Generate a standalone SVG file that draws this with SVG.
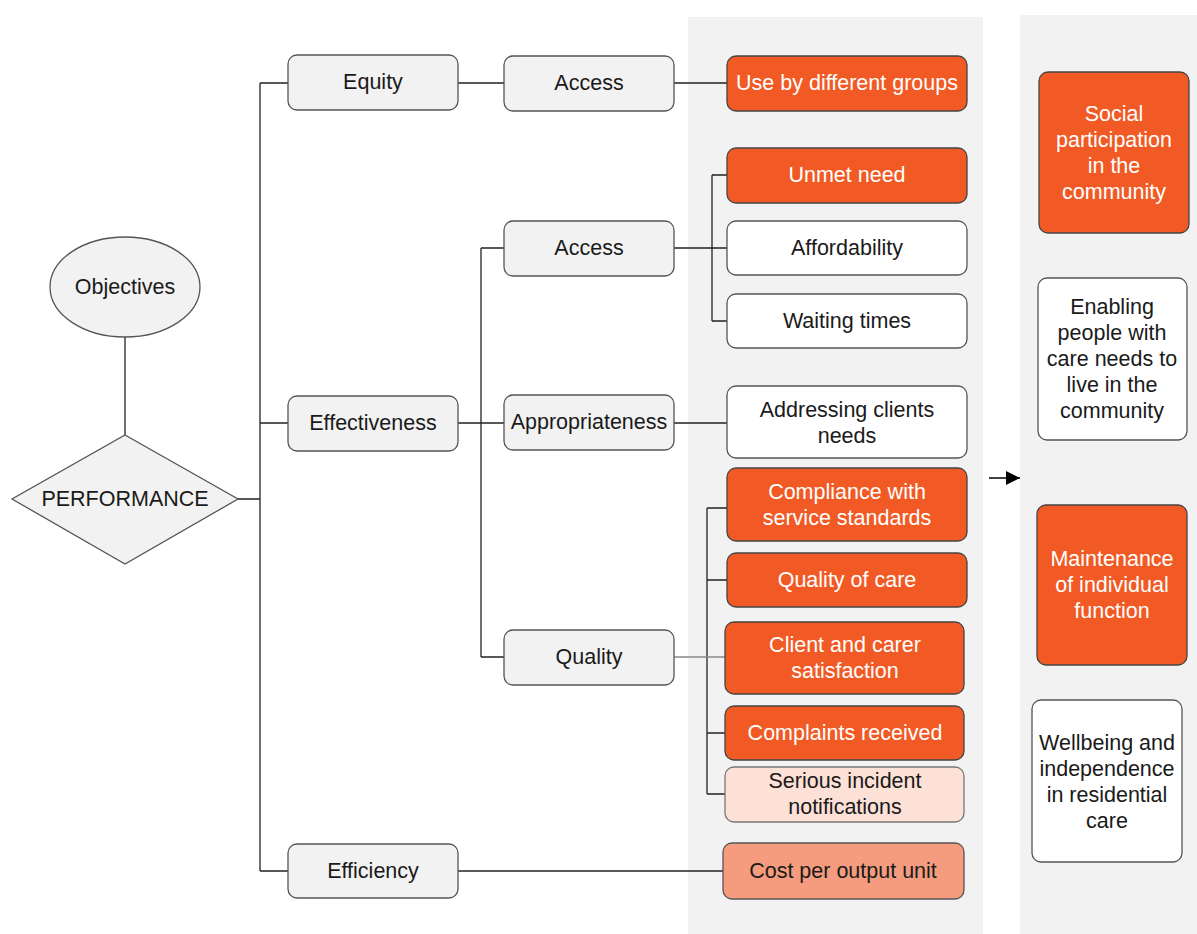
<svg xmlns="http://www.w3.org/2000/svg" width="1197" height="934" viewBox="0 0 1197 934">
<defs>
<style>
.t{font-family:"Liberation Sans",Arial,sans-serif;font-size:21.5px;text-anchor:middle;dominant-baseline:central;fill:#1a1a1a}
.w{fill:#ffffff}
.g{fill:#f2f2f2;stroke:#555;stroke-width:1.3}
.o{fill:#f15a24;stroke:#444;stroke-width:1.3}
.wh{fill:#ffffff;stroke:#555;stroke-width:1.3}
.pk{fill:#fde0d6;stroke:#777;stroke-width:1.3}
.sa{fill:#f59c7e;stroke:#555;stroke-width:1.3}
.c{fill:none;stroke:#222;stroke-width:1.3}
</style>
<marker id="ah" viewBox="0 0 10 10" refX="10" refY="5" markerWidth="14" markerHeight="14" markerUnits="userSpaceOnUse" orient="auto"><path d="M0,0 L10,5 L0,10 Z" fill="#000"/></marker>
</defs>
<rect width="1197" height="934" fill="#fff"/>
<rect x="688" y="17" width="295" height="917" fill="#f2f2f2"/>
<rect x="1020" y="15" width="177" height="919" fill="#f2f2f2"/>
<g id="connectors">
<path class="c" d="M125,337 V435"/>
<path class="c" d="M238,499 H260 M260,83 V871 M260,83 H288 M260,423 H288 M260,871 H288"/>
<path class="c" d="M458,83 H504 M674,83 H727"/>
<path class="c" d="M458,423 H504 M481,248 V657 M481,248 H504 M481,657 H504 M674,423 H727"/>
<path class="c" d="M674,248 H727 M712,175 V321 M712,175 H727 M712,321 H727"/>
<path class="c" d="M707,508 V794 M707,508 H727 M707,580 H727 M707,733 H725 M707,794 H725"/>
<path d="M674,657 H725" fill="none" stroke="#888" stroke-width="1.3"/>
<path class="c" d="M458,871 H723"/>
<path d="M989,478 H1020" fill="none" stroke="#000" stroke-width="1.5" marker-end="url(#ah)"/>
</g>
<g id="objectives"><ellipse class="g" cx="125" cy="287" rx="75" ry="50"/><text class="t" x="125" y="287">Objectives</text></g>
<g id="performance"><polygon class="g" points="125,435 238,499 125,564 12,499"/><text class="t" x="125" y="499">PERFORMANCE</text></g>
<g id="equity"><rect class="g" x="288" y="55" width="170" height="55" rx="9"/><text class="t" x="373" y="82">Equity</text></g>
<g id="effectiveness"><rect class="g" x="288" y="396" width="170" height="55" rx="9"/><text class="t" x="373" y="423">Effectiveness</text></g>
<g id="efficiency"><rect class="g" x="288" y="844" width="170" height="54" rx="9"/><text class="t" x="373" y="871">Efficiency</text></g>
<g id="access1"><rect class="g" x="504" y="56" width="170" height="55" rx="9"/><text class="t" x="589" y="83">Access</text></g>
<g id="access2"><rect class="g" x="504" y="221" width="170" height="55" rx="9"/><text class="t" x="589" y="248">Access</text></g>
<g id="appropriateness"><rect class="g" x="504" y="395" width="170" height="55" rx="9"/><text class="t" x="589" y="422">Appropriateness</text></g>
<g id="quality"><rect class="g" x="504" y="630" width="170" height="55" rx="9"/><text class="t" x="589" y="657">Quality</text></g>
<g id="use-by-groups"><rect class="o" x="727" y="56" width="240" height="55" rx="9"/><text class="t w" x="847" y="83">Use by different groups</text></g>
<g id="unmet-need"><rect class="o" x="727" y="148" width="240" height="55" rx="9"/><text class="t w" x="847" y="175">Unmet need</text></g>
<g id="affordability"><rect class="wh" x="727" y="221" width="240" height="54" rx="9"/><text class="t" x="847" y="248">Affordability</text></g>
<g id="waiting-times"><rect class="wh" x="727" y="294" width="240" height="54" rx="9"/><text class="t" x="847" y="321">Waiting times</text></g>
<g id="addressing-needs"><rect class="wh" x="727" y="386" width="240" height="72" rx="9"/><text class="t" x="847" y="410">Addressing clients</text><text class="t" x="847" y="436">needs</text></g>
<g id="compliance"><rect class="o" x="727" y="468" width="240" height="73" rx="9"/><text class="t w" x="847" y="492">Compliance with</text><text class="t w" x="847" y="518">service standards</text></g>
<g id="quality-of-care"><rect class="o" x="727" y="553" width="240" height="54" rx="9"/><text class="t w" x="847" y="580">Quality of care</text></g>
<g id="satisfaction"><rect class="o" x="725" y="622" width="239" height="72" rx="9"/><text class="t w" x="845" y="645">Client and carer</text><text class="t w" x="845" y="671">satisfaction</text></g>
<g id="complaints"><rect class="o" x="725" y="706" width="239" height="54" rx="9"/><text class="t w" x="845" y="733">Complaints received</text></g>
<g id="serious-incident"><rect class="pk" x="725" y="767" width="239" height="55" rx="9"/><text class="t" x="845" y="781">Serious incident</text><text class="t" x="845" y="807">notifications</text></g>
<g id="cost-per-unit"><rect class="sa" x="723" y="843" width="241" height="56" rx="9"/><text class="t" x="843" y="871">Cost per output unit</text></g>
<g id="social-participation"><rect class="o" x="1039" y="72" width="150" height="161" rx="9"/><text class="t w" x="1114" y="114">Social</text><text class="t w" x="1114" y="140">participation</text><text class="t w" x="1114" y="166">in the</text><text class="t w" x="1114" y="192">community</text></g>
<g id="enabling-people"><rect class="wh" x="1038" y="278" width="149" height="162" rx="9"/><text class="t" x="1112" y="307">Enabling</text><text class="t" x="1112" y="333">people with</text><text class="t" x="1112" y="359">care needs to</text><text class="t" x="1112" y="385">live in the</text><text class="t" x="1112" y="411">community</text></g>
<g id="maintenance"><rect class="o" x="1037" y="505" width="150" height="160" rx="9"/><text class="t w" x="1112" y="559">Maintenance</text><text class="t w" x="1112" y="585">of individual</text><text class="t w" x="1112" y="611">function</text></g>
<g id="wellbeing"><rect class="wh" x="1032" y="700" width="150" height="162" rx="9"/><text class="t" x="1107" y="743">Wellbeing and</text><text class="t" x="1107" y="769">independence</text><text class="t" x="1107" y="795">in residential</text><text class="t" x="1107" y="821">care</text></g>
</svg>
